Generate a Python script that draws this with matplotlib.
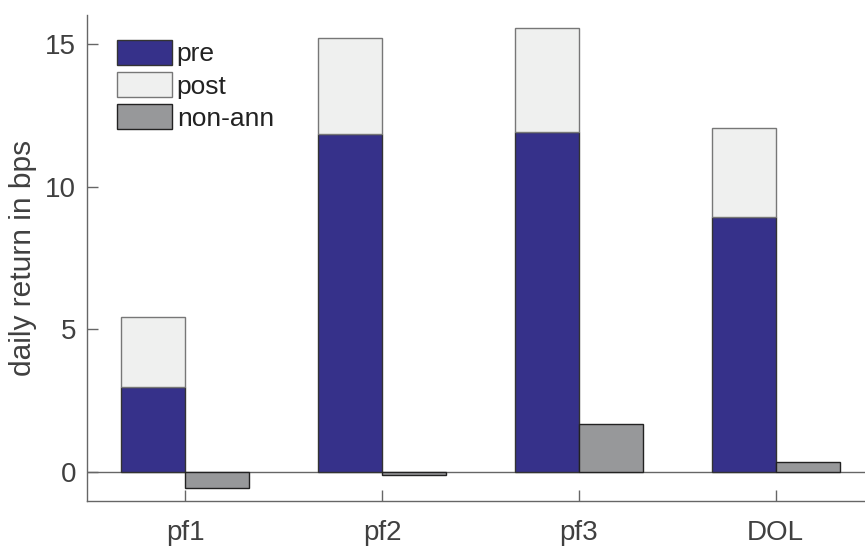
import matplotlib.pyplot as plt
import numpy as np

plt.rcParams['font.family'] = ['Liberation Sans', 'DejaVu Sans']

# data
groups = ['pf1', 'pf2', 'pf3', 'DOL']
pre = [3.0, 11.82, 11.89, 8.92]
post = [2.45, 3.39, 3.67, 3.14]
non_ann = [-0.56, -0.1, 1.68, 0.35]

c_pre = '#36318a'
c_post = '#eff0ef'
c_non = '#97989a'
c_axis = '#666666'
c_text = '#404040'

fig = plt.figure(figsize=(8.65, 5.48), dpi=100)
# right edge of the axes runs past the figure, as in the original
ax = fig.add_axes([87 / 865, 1 - 501 / 548, (874 - 87) / 865, (501 - 15) / 548])

x = np.arange(1, len(groups) + 1)
w = 0.325

ax.axhline(0, color=c_axis, lw=1.0, zorder=1)
ax.bar(x - w / 2, pre, w, color=c_pre, edgecolor='#333333', lw=1.0, label='pre', zorder=2)
ax.bar(x - w / 2, post, w, bottom=pre, color=c_post, edgecolor='#777777', lw=1.0, label='post', zorder=2)
ax.bar(x + w / 2, non_ann, w, color=c_non, edgecolor='#222222', lw=1.0, label='non-ann', zorder=2)

ax.set_xlim(0.5, 4.5)
ax.set_ylim(-1, 16)
ax.set_xticks(x)
ax.set_xticklabels(groups)
ax.set_yticks([0, 5, 10, 15])

for s in ['top', 'right']:
    ax.spines[s].set_visible(False)
for s in ['left', 'bottom']:
    ax.spines[s].set_color(c_axis)
    ax.spines[s].set_linewidth(1.0)

ax.tick_params(direction='in', length=8, width=1.0, colors=c_axis, labelcolor=c_text, labelsize=20)
ax.tick_params(axis='x', pad=14)
ax.tick_params(axis='y', pad=8)
ax.set_ylabel('daily return in bps', fontsize=21.5, color=c_text, labelpad=6)

leg = ax.legend(loc='upper left', bbox_to_anchor=(0.038, 0.949), frameon=False, fontsize=19,
                handlelength=2.08, handleheight=1.08, labelspacing=0.22, handletextpad=0.19,
                borderaxespad=0, borderpad=0)
for t in leg.get_texts():
    t.set_color('#222222')

plt.savefig('out.png', dpi=100)
